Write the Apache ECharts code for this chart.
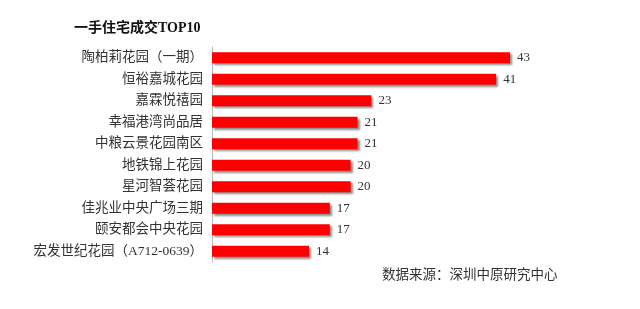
<!DOCTYPE html>
<html><head><meta charset="utf-8">
<script src="https://cdn.jsdelivr.net/npm/echarts@6/dist/echarts.min.js"></script>
<style>html,body{margin:0;padding:0;background:#fff}#c{width:640px;height:309px}</style>
</head><body><div id="c"></div>
<script>
const categories = ["陶柏莉花园（一期）","恒裕嘉城花园","嘉霖悦禧园","幸福港湾尚品居","中粮云景花园南区","地铁锦上花园","星河智荟花园","佳兆业中央广场三期","颐安都会中央花园","宏发世纪花园（A712-0639）"];
const values = [43,41,23,21,21,20,20,17,17,14];
const titleText = "一手住宅成交TOP10";
const sourceText = "数据来源：深圳中原研究中心";

const chart = echarts.init(document.getElementById('c'));
chart.setOption({
  animation:false,
  title:{text:titleText,left:69,top:16,textStyle:{fontFamily:"Liberation Serif, Noto Sans CJK SC",fontSize:14,fontWeight:'bold',color:'#111'}},
  graphic:[{type:'text',left:382,top:267,style:{text:sourceText,font:'13.5px "Noto Sans CJK SC"',fill:'#333'}}],
  grid:{left:212,top:47,width:346.5,height:215},
  xAxis:{type:'value',min:0,max:50,show:false},
  yAxis:{type:'category',inverse:true,data:categories,
    axisLine:{show:true,lineStyle:{color:'#bbb'}},axisTick:{show:false},
    axisLabel:{margin:9,fontSize:13.5,color:'#333',fontFamily:"Liberation Serif, Noto Sans CJK SC"}},
  series:[{type:'bar',data:values,barWidth:11,
    itemStyle:{color:'#FF0000',shadowColor:'rgba(0,0,0,0.45)',shadowOffsetX:2,shadowOffsetY:2,shadowBlur:2},
    label:{show:true,position:'right',distance:7,fontSize:13,color:'#333',fontFamily:"Liberation Serif"}}]
});
</script></body></html>
